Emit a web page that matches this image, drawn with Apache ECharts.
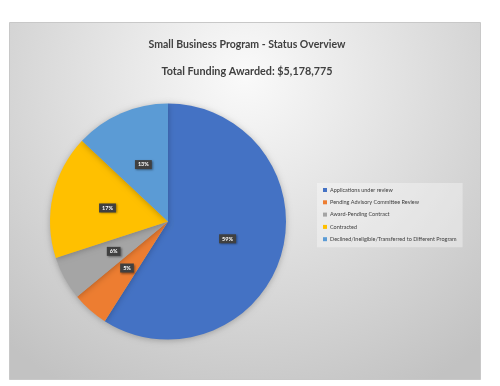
<!DOCTYPE html>
<html><head><meta charset="utf-8">
<script src="https://cdn.jsdelivr.net/npm/echarts@6/dist/echarts.min.js"></script>
<style>html,body{margin:0;padding:0;background:#fff}#c{width:500px;height:386px}</style>
</head><body><div id="c"></div>
<script>
const categories = ["Applications under review","Pending Advisory Committee Review","Award-Pending Contract","Contracted","Declined/Ineligible/Transferred to Different Program"];
const shares = [59, 5, 6, 17, 13];
const colors = ["#4472C4","#ED7D31","#A5A5A5","#FFC000","#5B9BD5"];
const title1 = "Small Business Program - Status Overview";
const title2 = "Total Funding Awarded: $5,178,775";

const chart = echarts.init(document.getElementById('c'), null, {renderer:'canvas'});
chart.setOption({
  animation:false,
  backgroundColor:'#ffffff',
  graphic:[{
    type:'rect', z:-10, silent:true,
    shape:{x:9.5,y:22.5,width:471,height:357},
    style:{
      fill:{type:'radial',x:0.5,y:0.15,r:1.0,colorStops:[{offset:0,color:'#fafafa'},{offset:0.5,color:'#dedede'},{offset:1,color:'#c2c2c2'}]},
      stroke:'#c8c8c8',lineWidth:1
    }
  }],
  title:[
    {text:title1,left:242,top:34,textAlign:'center',textStyle:{fontFamily:'Lato',fontSize:10.5,fontWeight:'bold',color:'#404040'}},
    {text:title2,left:242,top:61,textAlign:'center',textStyle:{fontFamily:'Lato',fontSize:10.8,fontWeight:'bold',color:'#404040'}}
  ],
  legend:{
    orient:'vertical',left:317,top:183,
    backgroundColor:'rgba(255,255,255,0.35)',
    padding:[4,6,5,6],
    itemWidth:4,itemHeight:4,itemGap:6.3,
    icon:'rect',
    textStyle:{fontFamily:'Lato',fontSize:5.5,color:'#404040',padding:[0,0,0,-2]},
    data:categories
  },
  series:[{
    type:'pie',
    center:[168,221.5],
    radius:[0,118],
    startAngle:90,
    clockwise:true,
    avoidLabelOverlap:false,
    itemStyle:{shadowBlur:6,shadowColor:'rgba(0,0,0,0.25)',shadowOffsetY:1},
    label:{
      position:'inside',
      formatter:'{d}%',
      color:'#fff',fontFamily:'Lato',fontSize:5.5,fontWeight:'bold',
      backgroundColor:'#404040',padding:[2,3,1,3],
      shadowBlur:2,shadowColor:'rgba(0,0,0,0.4)',shadowOffsetX:1,shadowOffsetY:1
    },
    labelLine:{show:false},
    emphasis:{disabled:true},
    data:categories.map((n,i)=>({name:n,value:shares[i],itemStyle:{color:colors[i]}}))
  }]
});
</script></body></html>
